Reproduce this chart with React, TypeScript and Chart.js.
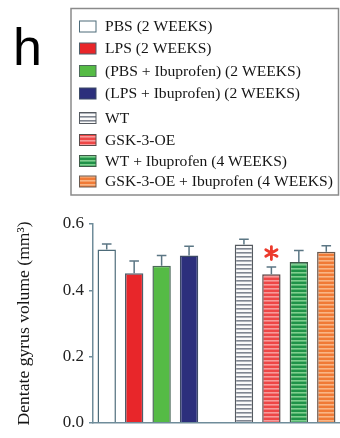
import React, { useEffect, useRef } from "react";
import { Chart, registerables } from "chart.js";

Chart.register(...registerables);

// ---------- data ----------
const categories = [
  "PBS (2 WEEKS)",
  "LPS (2 WEEKS)",
  "(PBS + Ibuprofen) (2 WEEKS)",
  "(LPS + Ibuprofen) (2 WEEKS)",
  "",
  "WT",
  "GSK-3-OE",
  "WT + Ibuprofen (4 WEEKS)",
  "GSK-3-OE + Ibuprofen (4 WEEKS)",
];
const volumes = [0.523, 0.451, 0.474, 0.505, null, 0.538, 0.448, 0.485, 0.516];
const errors = [0.017, 0.037, 0.031, 0.028, null, 0.016, 0.022, 0.035, 0.018];
const significant = [false, false, false, false, false, false, true, false, false];
const yTicks = [0, 0.2, 0.4, 0.6];
const legendLabels = [
  "PBS (2 WEEKS)",
  "LPS (2 WEEKS)",
  "(PBS + Ibuprofen) (2 WEEKS)",
  "(LPS + Ibuprofen) (2 WEEKS)",
  "WT",
  "GSK-3-OE",
  "WT + Ibuprofen (4 WEEKS)",
  "GSK-3-OE + Ibuprofen (4 WEEKS)",
];

// ---------- styles ----------
const baseColors = ["#ffffff", "#e8262a", "#55bb45", "#2c2f7c", null, "#fafafa", "#ee4646", "#1f9248", "#f07a36"];
const stripeColors = [null, null, null, null, null, "#7f8590", "#f79a9a", "#7fcf8f", "#f9b585"];
const borderColors = ["#4d6b79", "#4d5e6a", "#4d6a5a", "#3d4a66", null, "#555a60", "#5a4a4a", "#3f5a48", "#6a5a50"];
const legendRowY = [26.5, 48.5, 71, 93.5, 118, 140, 161, 181.5];
const SERIF = "'Liberation Serif', 'DejaVu Serif', serif";
const SANS = "'Liberation Sans', Arial, sans-serif";
const AXIS = "#6f8c9a";

function makeFill(ctx: CanvasRenderingContext2D, i: number): string | CanvasPattern {
  const base = baseColors[i] || "#fff";
  const stripe = stripeColors[i];
  if (!stripe) return base;
  const c = document.createElement("canvas");
  c.width = 4;
  c.height = 4;
  const p = c.getContext("2d")!;
  p.fillStyle = base;
  p.fillRect(0, 0, 4, 4);
  p.fillStyle = stripe;
  p.fillRect(0, 0, 4, 1.6);
  return ctx.createPattern(c, "repeat")!;
}

export default function App() {
  const ref = useRef<HTMLCanvasElement | null>(null);

  useEffect(() => {
    const canvas = ref.current!;
    const ctx = canvas.getContext("2d")!;
    const fills = categories.map((_, i) => makeFill(ctx, i));

    const decorPlugin = {
      id: "decor",
      afterDraw(chart: any) {
        const c = chart.ctx as CanvasRenderingContext2D;
        const x = chart.scales.x;
        const y = chart.scales.y;
        c.save();
        // error bars
        volumes.forEach((v, i) => {
          if (v == null || errors[i] == null) return;
          const cx = x.getPixelForValue(i);
          const top = y.getPixelForValue(v);
          const cap = y.getPixelForValue(v + (errors[i] as number));
          c.strokeStyle = "#5b7684";
          c.lineWidth = 1.5;
          c.beginPath();
          c.moveTo(cx, top);
          c.lineTo(cx, cap);
          c.moveTo(cx - 4.8, cap);
          c.lineTo(cx + 4.8, cap);
          c.stroke();
          if (significant[i]) {
            const ay = cap - 14;
            c.strokeStyle = "#ec3a2c";
            c.lineWidth = 2.8;
            c.lineCap = "round";
            c.beginPath();
            for (let k = 0; k < 3; k++) {
              const a = (Math.PI / 3) * k + Math.PI / 2;
              c.moveTo(cx + Math.cos(a) * 6.5, ay + Math.sin(a) * 6.5);
              c.lineTo(cx - Math.cos(a) * 6.5, ay - Math.sin(a) * 6.5);
            }
            c.stroke();
            c.lineCap = "butt";
          }
        });
        // panel letter
        c.fillStyle = "#000";
        c.font = `52px ${SANS}`;
        c.textBaseline = "alphabetic";
        c.textAlign = "left";
        c.fillText("h", 13, 65);
        // legend box
        c.strokeStyle = "#8a8a8a";
        c.lineWidth = 1.5;
        c.strokeRect(71, 8.5, 267.5, 186.5);
        const fillIdx = categories.map((lab, i) => (lab ? i : -1)).filter((i) => i >= 0);
        legendLabels.forEach((lab, k) => {
          const i = fillIdx[k];
          const ry = legendRowY[k];
          c.fillStyle = fills[i] as any;
          c.fillRect(79, ry - 5.5, 17, 11);
          c.strokeStyle = borderColors[i] || "#555";
          c.lineWidth = 1;
          c.strokeRect(79.5, ry - 5.5, 16.5, 11);
          c.fillStyle = "#151515";
          c.font = `15.6px ${SERIF}`;
          c.textBaseline = "middle";
          c.fillText(lab, 105, ry + 0.5);
        });
        c.restore();
      },
    };

    const chart = new Chart(ctx, {
      type: "bar",
      data: {
        labels: categories,
        datasets: [
          {
            data: volumes as any,
            backgroundColor: fills as any,
            borderColor: borderColors.map((b) => b || "#555") as any,
            borderWidth: 1.5,
            borderSkipped: "bottom",
            categoryPercentage: 1,
            barPercentage: 0.67,
          },
        ],
      },
      options: {
        animation: false,
        responsive: false,
        devicePixelRatio: 1,
        layout: { padding: { top: 224, right: 0, bottom: 11, left: 0 } },
        plugins: { legend: { display: false }, tooltip: { enabled: false }, title: { display: false } },
        scales: {
          x: {
            grid: { display: true, drawOnChartArea: false, drawTicks: false },
            border: { display: true, color: AXIS, width: 1.5 },
            ticks: { display: false },
          },
          y: {
            min: 0,
            max: 0.6,
            afterFit: (s: any) => {
              s.width = 93;
            },
            afterBuildTicks: (s: any) => {
              s.ticks = yTicks.map((v) => ({ value: v }));
            },
            grid: { display: true, drawOnChartArea: false, drawTicks: true, tickLength: 4, color: AXIS, lineWidth: 1.5 },
            border: { display: true, color: AXIS, width: 1.5 },
            ticks: {
              padding: 5,
              color: "#222",
              font: { family: SERIF, size: 17 },
              callback: (v: any) => Number(v).toFixed(1),
            },
            title: {
              display: true,
              text: "Dentate gyrus volume (mm³)",
              color: "#151515",
              font: { family: SERIF, size: 17.6 },
              padding: { top: 14, bottom: 0 },
            },
          },
        },
      },
      plugins: [decorPlugin],
    });
    return () => chart.destroy();
  }, []);

  return (
    <canvas
      ref={ref}
      width={340}
      height={438}
      style={{ position: "fixed", left: 0, top: 0, width: 340, height: 438, background: "#fff" }}
    />
  );
}
